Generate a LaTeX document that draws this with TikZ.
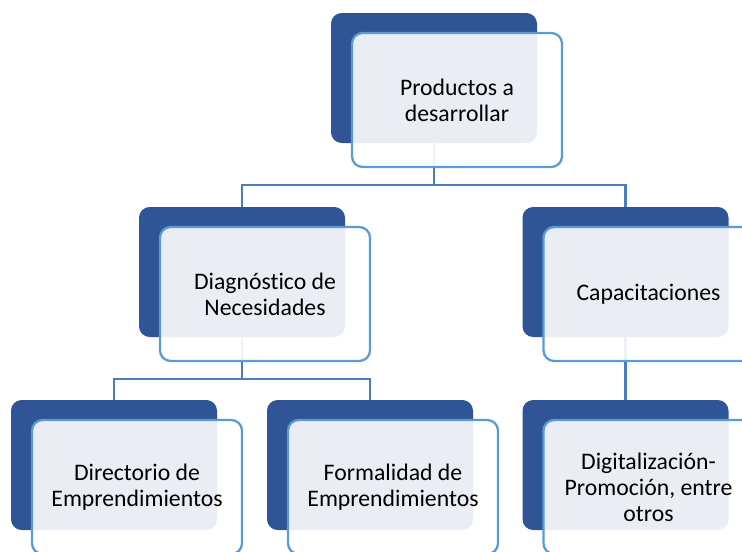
\documentclass[tikz,border=0pt]{standalone}
\usepackage{fontspec}
\setmainfont{Carlito}[Ligatures={NoCommon,NoContextual}]
\definecolor{darkbox}{HTML}{2F5597}
\definecolor{lightedge}{HTML}{5B9BD5}
\definecolor{connblue}{HTML}{4A7EBB}
\begin{document}
\begin{tikzpicture}[x=0.75pt,y=-0.75pt,
  darkrect/.style={draw=none, fill=darkbox, rounded corners=8pt,
    minimum width=154.5pt, minimum height=97.5pt, inner sep=0pt},
  lightrect/.style={draw=lightedge, line width=1.7pt, fill=white, fill opacity=0.9,
    text opacity=1, rounded corners=8pt, minimum width=157.5pt, minimum height=100.5pt,
    inner sep=0pt, align=center, font=\fontsize{17.8}{19.5}\selectfont, text=black},
  connline/.style={draw=connblue, line width=2pt}]
\useasboundingbox (0,0) rectangle (742,551);
\clip (0,0) rectangle (742,551);
% dark boxes
\node[darkrect] (T)  at (434,78) {};
\node[darkrect] (L)  at (242,272) {};
\node[darkrect] (R)  at (625.5,272) {};
\node[darkrect] (LL) at (114,465) {};
\node[darkrect] (LM) at (370,465) {};
\node[darkrect] (RB) at (625.5,465) {};
% connectors
\coordinate (b1) at (434,185);
\coordinate (b2) at (242,379);
\draw[connline] (T.south) -- (b1);
\draw[connline] (b1) -| (L.north);
\draw[connline] (b1) -| (R.north);
\draw[connline] (L.south) -- (b2);
\draw[connline] (b2) -| (LL.north);
\draw[connline] (b2) -| (LM.north);
\draw[connline] (R.south) -- (RB.north);
% light boxes
\node[lightrect] (Tl)  at (457,100) {Productos a\\desarrollar};
\node[lightrect] (Ll)  at (265,294) {Diagnóstico de\\Necesidades};
\node[lightrect] (Rl)  at (648.5,294) {Capacitaciones};
\node[lightrect] (LLl) at (137,487) {Directorio de\\Emprendimientos};
\node[lightrect] (LMl) at (393,487) {Formalidad de\\Emprendimientos};
\node[lightrect] (RBl) at (648.5,487) {Digitalización-\\Promoción, entre\\otros};
\end{tikzpicture}
\end{document}
